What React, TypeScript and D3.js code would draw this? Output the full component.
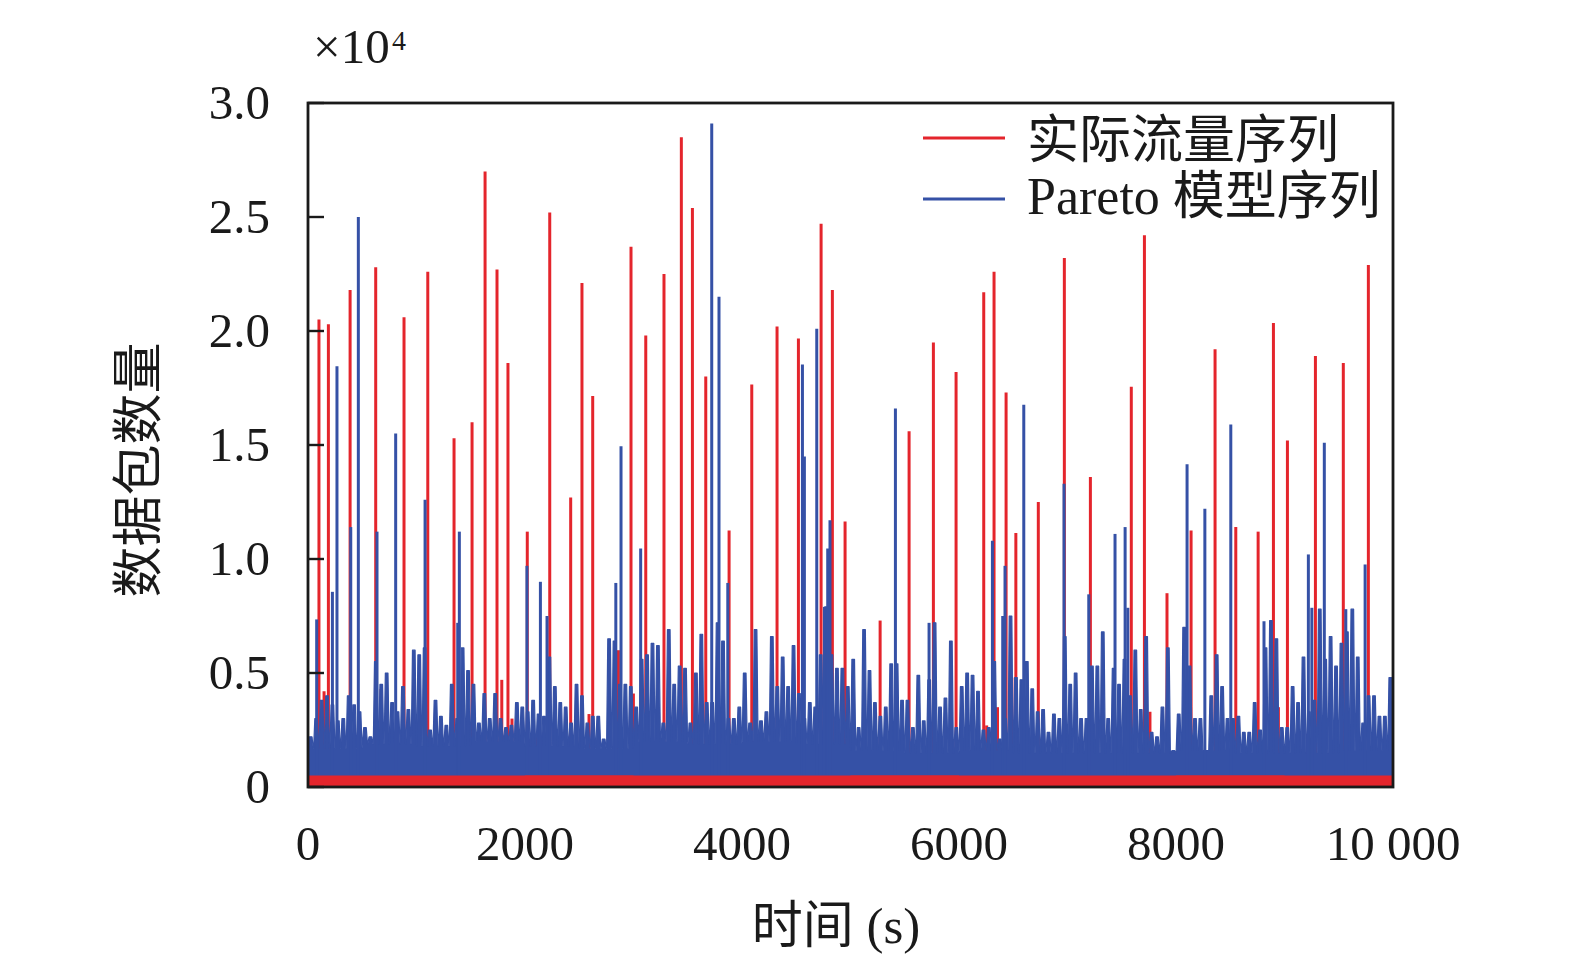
import * as d3 from "d3";

const W = 1575;
const H = 965;

// axis ticks
const yTicks = [0, 0.5, 1.0, 1.5, 2.0, 2.5, 3.0];
const yTickLabels = ["0", "0.5", "1.0", "1.5", "2.0", "2.5", "3.0"];
const xTicks = [0, 2000, 4000, 6000, 8000, 10000];
const xTickLabels = ["0", "2000", "4000", "6000", "8000", "10 000"];

// 实际流量序列: isolated peaks [time s, packets ×10^4]
const redSpikes: [number, number][] = [
  [101, 2.05], [148, 0.42], [188, 2.03], [388, 2.18], [624, 2.28], [673, 0.43],
  [885, 2.06], [1104, 2.26], [1346, 1.53], [1512, 1.6], [1632, 2.7], [1742, 2.27],
  [1786, 0.47], [1843, 1.86], [1880, 0.3], [2021, 1.12], [2109, 0.22], [2228, 2.52],
  [2421, 1.27], [2477, 0.22], [2525, 2.21], [2590, 0.32], [2624, 1.715], [2861, 0.6],
  [2977, 2.37], [2999, 0.41], [3113, 1.98], [3281, 2.25], [3441, 2.85], [3475, 0.27],
  [3543, 2.54], [3666, 1.8], [3881, 1.125], [4090, 1.765], [4323, 2.02], [4520, 1.967],
  [4729, 2.47], [4833, 2.18], [4950, 1.164], [5273, 0.73], [5540, 1.56], [5764, 1.95],
  [5973, 1.82], [6228, 2.17], [6255, 0.27], [6323, 2.26], [6355, 0.35], [6434, 1.73],
  [6487, 0.48], [6524, 1.114], [6731, 1.25], [6971, 2.32], [7211, 1.36], [7588, 1.755],
  [7709, 2.42], [7760, 0.33], [7917, 0.85], [8139, 1.125], [8360, 1.92], [8551, 1.14],
  [8757, 1.12], [8898, 2.035], [8944, 0.35], [9027, 1.52], [9285, 1.89], [9542, 1.86],
  [9773, 2.29],
];

// 实际流量序列 baseline level, per 1000 s
const redBand = [0.05, 0.05, 0.052, 0.05, 0.05, 0.052, 0.05, 0.05, 0.052, 0.05];

// Pareto 模型序列: large peaks [time s, packets ×10^4]
const blueSpikes: [number, number][] = [
  [80, 0.735], [225, 0.856], [267, 1.845], [394, 1.14], [464, 2.5], [636, 1.12],
  [808, 1.55], [1079, 1.26], [1380, 0.72], [1395, 1.12], [2018, 0.97], [2142, 0.9],
  [2203, 0.75], [2837, 0.895], [2885, 1.495], [3066, 1.046], [3721, 2.91], [3788, 2.15],
  [3869, 0.895], [4557, 1.853], [4575, 1.45], [4689, 2.01], [4760, 0.79], [4790, 1.046],
  [4811, 1.17], [5414, 1.66], [5724, 0.72], [6308, 1.08], [6403, 0.75], [6424, 0.97],
  [6597, 1.676], [6968, 1.33], [7196, 0.845], [7438, 1.11], [7531, 1.14], [7556, 0.786],
  [8102, 1.416], [8266, 1.22], [8505, 1.59], [8811, 0.727], [9220, 1.02], [9252, 0.786],
  [9367, 1.51], [9565, 0.78], [9743, 0.976],
];

// Pareto 模型序列: highest value in each 50 s bin (background traffic)
const bluePeaks = [
  0.22, 0.30, 0.38, 0.40, 0.36, 0.29, 0.30, 0.40, 0.36, 0.33, 0.26, 0.22, 0.55, 0.45, 0.50, 0.37, 0.33, 0.44, 0.34, 0.60,
  0.58, 0.61, 0.25, 0.38, 0.31, 0.27, 0.45, 0.30, 0.61, 0.51, 0.45, 0.28, 0.41, 0.30, 0.41, 0.30, 0.26, 0.27, 0.37, 0.35,
  0.33, 0.38, 0.32, 0.31, 0.57, 0.44, 0.37, 0.35, 0.28, 0.45, 0.40, 0.28, 0.31, 0.31, 0.21, 0.65, 0.64, 0.45, 0.45, 0.44,
  0.35, 0.56, 0.58, 0.63, 0.62, 0.28, 0.69, 0.45, 0.53, 0.52, 0.28, 0.50, 0.67, 0.37, 0.37, 0.72, 0.64, 0.30, 0.30, 0.35,
  0.50, 0.28, 0.69, 0.29, 0.33, 0.66, 0.44, 0.57, 0.44, 0.62, 0.41, 0.30, 0.37, 0.35, 0.58, 0.79, 0.58, 0.52, 0.52, 0.44,
  0.56, 0.26, 0.69, 0.51, 0.37, 0.31, 0.35, 0.54, 0.54, 0.38, 0.38, 0.26, 0.49, 0.29, 0.47, 0.72, 0.35, 0.39, 0.64, 0.26,
  0.44, 0.50, 0.49, 0.42, 0.25, 0.26, 0.55, 0.21, 0.30, 0.75, 0.48, 0.47, 0.55, 0.43, 0.33, 0.34, 0.24, 0.32, 0.30, 0.66,
  0.45, 0.50, 0.30, 0.30, 0.53, 0.53, 0.68, 0.30, 0.52, 0.45, 0.56, 0.40, 0.60, 0.34, 0.66, 0.24, 0.22, 0.35, 0.61, 0.16,
  0.32, 0.70, 0.53, 0.30, 0.30, 0.16, 0.40, 0.58, 0.44, 0.30, 0.30, 0.31, 0.24, 0.24, 0.37, 0.25, 0.61, 0.73, 0.65, 0.26,
  0.26, 0.44, 0.37, 0.57, 0.33, 0.38, 0.78, 0.56, 0.66, 0.53, 0.63, 0.68, 0.78, 0.57, 0.28, 0.40, 0.40, 0.31, 0.31, 0.48,
];
// lowest value between bins, per 500 s
const blueTrough = [
  0.17, 0.19, 0.18, 0.2, 0.18, 0.17, 0.2, 0.19, 0.2, 0.19,
  0.16, 0.15, 0.16, 0.15, 0.15, 0.15, 0.16, 0.15, 0.15, 0.16,
];
const blueFloor = 0.05;

const RED = "#e4252c";
const BLUE = "#3551a6";
const SERIF = "'Liberation Serif', 'Times New Roman', 'Noto Sans CJK SC', serif";

export default function App() {
  const x = d3.scaleLinear().domain([0, 10000]).range([308, 1393]);
  const y = d3.scaleLinear().domain([0, 3]).range([787, 103]);

  // each 50 s bin drawn as a column rising from the trough level
  const bluePts: [number, number][] = [[0, blueTrough[0]]];
  bluePeaks.forEach((p, i) => {
    const tc = i * 50 + 25;
    const tr = blueTrough[Math.floor(tc / 500)];
    bluePts.push([tc - 23, tr], [tc - 12, p], [tc + 12, p], [tc + 23, tr]);
  });
  bluePts.push([10000, blueTrough[blueTrough.length - 1]]);

  const blueArea = d3
    .area<[number, number]>()
    .x((d) => x(d[0]))
    .y0(y(blueFloor))
    .y1((d) => y(d[1]));

  const redPts: [number, number][] = redBand.map((v, i) => [i * 1000, v] as [number, number]);
  redPts.push([10000, redBand[redBand.length - 1]]);
  const redArea = d3
    .area<[number, number]>()
    .curve(d3.curveStepAfter)
    .x((d) => x(d[0]))
    .y0(y(0))
    .y1((d) => y(d[1]));

  const [x0, x1] = x.range();
  const [yb, yt] = y.range();

  return (
    <svg
      width={W}
      height={H}
      viewBox={`0 0 ${W} ${H}`}
      style={{ position: "absolute", left: 0, top: 0, background: "#fff" }}
    >
      {/* x ticks sit under the data */}
      {xTicks.map((t) => (
        <line key={t} x1={x(t)} x2={x(t)} y1={yb} y2={yb - 14} stroke="#1a1a1a" strokeWidth={2} />
      ))}

      {/* 实际流量序列 */}
      {redSpikes.map(([t, v], i) => (
        <line key={"r" + i} x1={x(t)} x2={x(t)} y1={y(0)} y2={y(v)} stroke={RED} strokeWidth={3} />
      ))}

      {/* Pareto 模型序列 */}
      <path d={blueArea(bluePts) ?? ""} fill={BLUE} stroke={BLUE} strokeWidth={1.2} strokeLinejoin="round" />
      {blueSpikes.map(([t, v], i) => (
        <line key={"b" + i} x1={x(t)} x2={x(t)} y1={y(blueFloor)} y2={y(v)} stroke={BLUE} strokeWidth={3} />
      ))}

      <path d={redArea(redPts) ?? ""} fill={RED} />

      {/* frame */}
      <rect x={x0} y={yt} width={x1 - x0} height={yb - yt} fill="none" stroke="#1a1a1a" strokeWidth={2.8} />
      {yTicks.map((v) => (
        <line key={v} x1={x0} x2={x0 + 16} y1={y(v)} y2={y(v)} stroke="#1a1a1a" strokeWidth={2.4} />
      ))}

      {/* tick labels */}
      <g fontFamily={SERIF} fontSize={49} fill="#1a1a1a">
        {yTicks.map((v, i) => (
          <text key={v} x={270} y={y(v) + 16} textAnchor="end">
            {yTickLabels[i]}
          </text>
        ))}
        {xTicks.map((t, i) => (
          <text key={t} x={x(t)} y={860} textAnchor="middle">
            {xTickLabels[i]}
          </text>
        ))}
        <text x={313} y={63}>×10</text>
        <text x={392} y={50} fontSize={28}>4</text>
      </g>

      {/* axis titles */}
      <text x={836} y={943} textAnchor="middle" fontFamily={SERIF} fontSize={51} fill="#1a1a1a">
        时间 (s)
      </text>
      <text
        transform="translate(139,470) rotate(-90)"
        textAnchor="middle"
        dominantBaseline="central"
        fontFamily={SERIF}
        fontSize={51}
        fill="#1a1a1a"
      >
        数据包数量
      </text>

      {/* legend */}
      <line x1={923} x2={1005} y1={138} y2={138} stroke={RED} strokeWidth={3} />
      <line x1={923} x2={1005} y1={199} y2={199} stroke={BLUE} strokeWidth={3} />
      <g fontFamily={SERIF} fontSize={52} fill="#1a1a1a">
        <text x={1027} y={158}>实际流量序列</text>
        <text x={1027} y={214}>Pareto 模型序列</text>
      </g>
    </svg>
  );
}
